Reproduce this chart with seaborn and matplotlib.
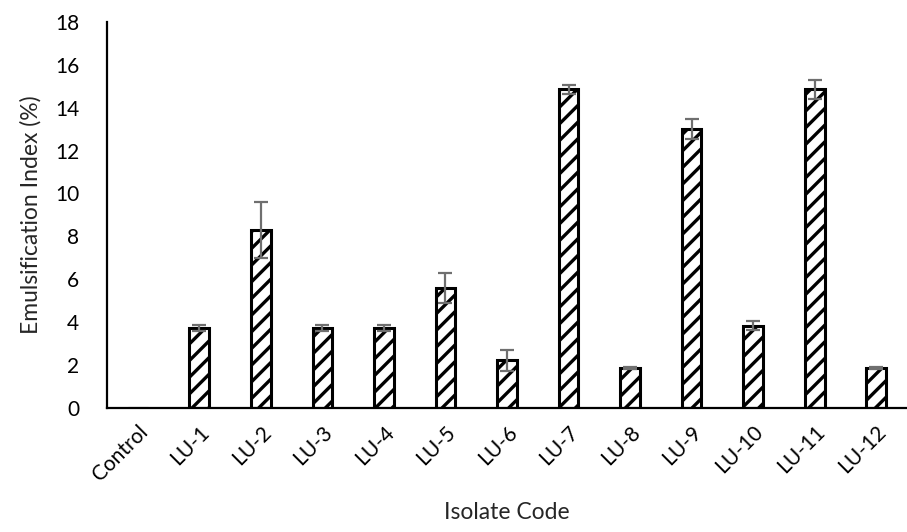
import matplotlib
matplotlib.use("Agg")
import matplotlib.pyplot as plt
import pandas as pd
import seaborn as sns
import numpy as np

isolates = ["Control", "LU-1", "LU-2", "LU-3", "LU-4", "LU-5", "LU-6",
            "LU-7", "LU-8", "LU-9", "LU-10", "LU-11", "LU-12"]
ei_mean = [0, 3.72, 8.3, 3.72, 3.72, 5.58, 2.22, 14.85, 1.86, 13.0, 3.84, 14.85, 1.86]
ei_err = [0, 0.15, 1.3, 0.15, 0.15, 0.7, 0.5, 0.2, 0.05, 0.46, 0.22, 0.45, 0.05]

df = pd.DataFrame({"Isolate": isolates, "EI": ei_mean, "err": ei_err})

sns.set_theme(style="white")
plt.rcParams["font.family"] = ["Lato", "DejaVu Sans"]
plt.rcParams["hatch.linewidth"] = 2.4

fig = plt.figure(figsize=(9.07, 5.32), dpi=100)
ax = fig.add_axes([0.118, 0.233, 0.882, 0.726])

sns.barplot(data=df, x="Isolate", y="EI", order=isolates, color="white",
            edgecolor="black", linewidth=2.2, width=0.32, errorbar=None,
            hatch="//", ax=ax)

# error bars (skip control)
mask = df["err"] > 0
xpos = np.arange(len(isolates))[mask.values]
ax.errorbar(xpos, df.loc[mask, "EI"], yerr=df.loc[mask, "err"], fmt="none",
            ecolor="#6f6f6f", elinewidth=1.6, capsize=5, capthick=1.6)

ax.set_ylim(0, 18)
ax.set_xlim(-0.5, len(isolates) - 0.5)
ax.set_yticks(range(0, 19, 2))
ax.tick_params(axis="both", labelsize=15, length=0, colors="black")
ax.tick_params(axis="y", pad=20)
plt.setp(ax.get_xticklabels(), rotation=45, ha="right", rotation_mode="anchor")
ax.tick_params(axis="x", pad=10)

for s in ["top", "right"]:
    ax.spines[s].set_visible(False)
for s in ["left", "bottom"]:
    ax.spines[s].set_color("black")
    ax.spines[s].set_linewidth(1.6)

ax.set_xlabel("Isolate Code", fontsize=16.5, labelpad=12)
ax.set_ylabel("Emulsification Index (%)", fontsize=16.5, labelpad=10)

plt.savefig("out.png", dpi=100)
plt.close()
